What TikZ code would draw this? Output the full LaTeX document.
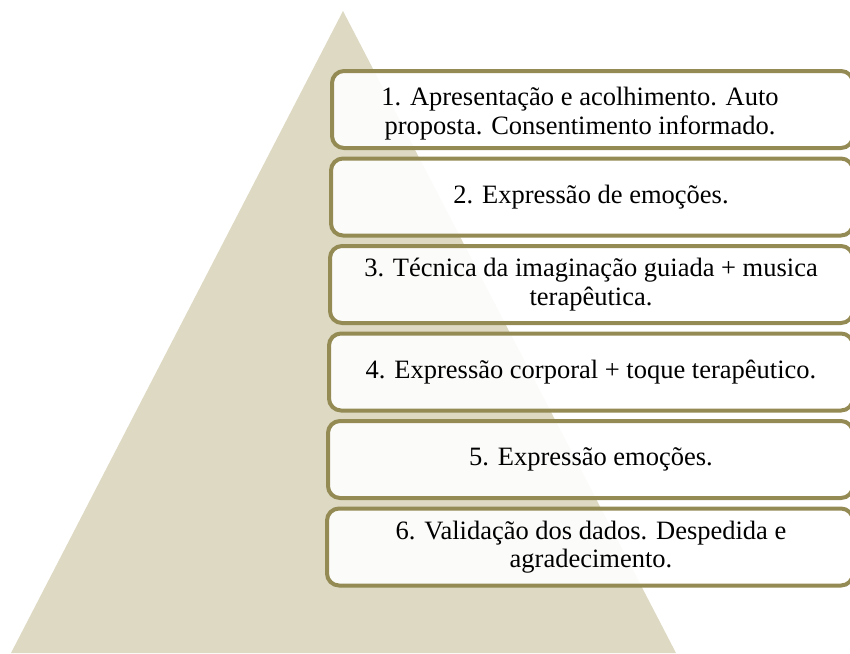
\documentclass[tikz,border=0pt]{standalone}
\usepackage{fontspec}
\setmainfont{Liberation Serif}
\definecolor{tanbg}{RGB}{221,217,195}
\definecolor{olive}{RGB}{148,138,84}
\tikzset{
  stepbox/.style={draw=olive, line width=4pt, rounded corners=12pt, fill=white, fill opacity=0.9, text opacity=1},
  steptext/.style={font=\fontsize{26.5pt}{28.5pt}\selectfont, align=center, text=black, inner sep=0pt}
}
\begin{document}
\begin{tikzpicture}[x=1pt,y=-1pt]
\useasboundingbox (0,0) rectangle (850,653);
\fill[tanbg] (343,11) coordinate (apex) -- (11,653) coordinate (bl) -- (676,653) coordinate (br) -- cycle;
% boxes
\foreach \i/\l/\t in {1/330/69, 2/329/156.5, 3/328/244, 4/327/331.5, 5/326/419, 6/325/506.5}{
  \draw[stepbox] (\l+2,\t+2) rectangle (853,\t+79);
  \coordinate (c\i) at (591,\t+40.5);
}
\node[steptext] (t1) at ([xshift=-11pt,yshift=-4pt]c1) {1. Apresentação e acolhimento. Auto\\proposta. Consentimento informado.};
\node[steptext] (t2) at (c2) {2. Expressão de emoções.};
\node[steptext] (t3) at (c3) {3. Técnica da imaginação guiada + musica\\terapêutica.};
\node[steptext] (t4) at (c4) {4. Expressão corporal + toque terapêutico.};
\node[steptext] (t5) at (c5) {5. Expressão emoções.};
\node[steptext] (t6) at (c6) {6. Validação dos dados. Despedida e\\agradecimento.};
\end{tikzpicture}
\end{document}
